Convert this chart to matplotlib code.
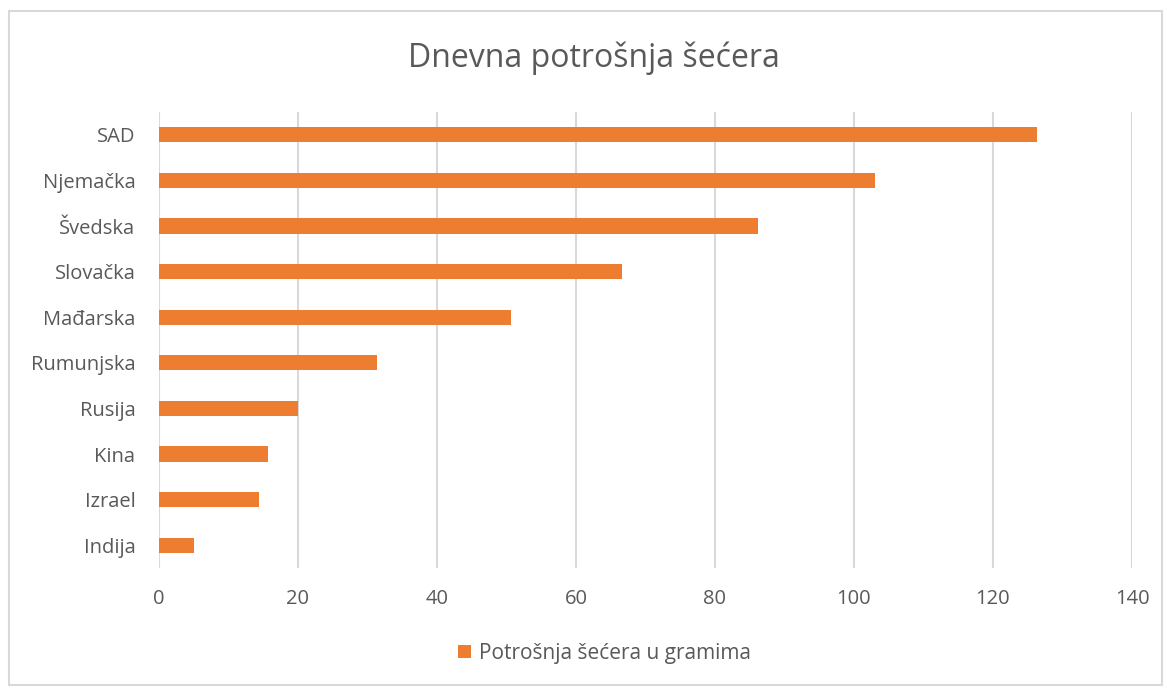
import matplotlib.pyplot as plt
from matplotlib.patches import Rectangle

# podaci
countries = ['SAD', 'Njemačka', 'Švedska', 'Slovačka', 'Mađarska',
             'Rumunjska', 'Rusija', 'Kina', 'Izrael', 'Indija']
grams = [126.3, 103.0, 86.2, 66.6, 50.7, 31.4, 20.0, 15.7, 14.4, 5.0]
x_ticks = [0, 20, 40, 60, 80, 100, 120, 140]

bar_color = '#ED7D31'
text_color = '#595959'
grid_color = '#D9D9D9'

plt.rcParams['font.family'] = ['Open Sans', 'DejaVu Sans']

fig = plt.figure(figsize=(11.67, 6.88), dpi=100)
ax = fig.add_axes([0.1362, 0.1744, 0.8338, 0.6628])

# okvir oko grafikona
fig.patches.append(Rectangle((0.008, 0.004), 0.988, 0.98, transform=fig.transFigure,
                             fill=False, edgecolor='#D9D9D9', linewidth=1.5))

y = list(range(len(countries)))[::-1]
ax.barh(y, grams, height=0.33, color=bar_color, label='Potrošnja šećera u gramima', zorder=3)

ax.set_xlim(0, 140)
ax.set_ylim(-0.5, len(countries) - 0.5)
ax.set_xticks(x_ticks)
ax.set_yticks(y)
ax.set_yticklabels(countries)
ax.xaxis.grid(True, color=grid_color, linewidth=1.5, zorder=0)
for s in ax.spines.values():
    s.set_visible(False)
ax.tick_params(axis='both', length=0, labelsize=14.5, labelcolor=text_color)
ax.tick_params(axis='x', pad=15)
ax.tick_params(axis='y', pad=17)

fig.text(0.509, 0.915, 'Dnevna potrošnja šećera', ha='center', va='center',
         fontsize=23, color=text_color)

fig.legend(loc='center', bbox_to_anchor=(0.518, 0.05), frameon=False, fontsize=15,
           labelcolor=text_color, handlelength=0.6, handleheight=0.6, handletextpad=0.4)

fig.savefig('out.png', dpi=100, facecolor='white')
